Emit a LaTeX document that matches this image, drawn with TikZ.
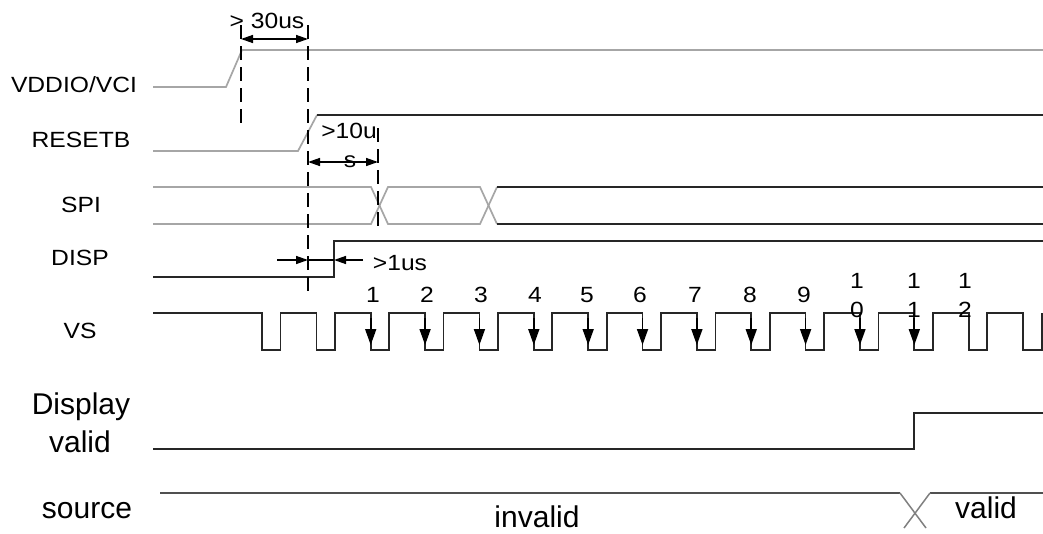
\documentclass[tikz,border=0pt]{standalone}
\usepackage{fontspec}
\setmainfont{Liberation Sans}
\newfontfamily\labfont[FakeStretch=1.12]{Liberation Sans}
\usetikzlibrary{arrows.meta}
\definecolor{sgray}{HTML}{A6A6A6}
\definecolor{sdark}{HTML}{262626}
\definecolor{srcc}{HTML}{505050}
\definecolor{xg}{HTML}{808080}
\begin{document}
\begin{tikzpicture}[x=1pt,y=-1pt,
  wgray/.style={draw=sgray,line width=1.7pt},
  wdark/.style={draw=sdark,line width=1.7pt,line join=miter},
  dashln/.style={draw=black,line width=1.3pt,dash pattern=on 14pt off 7pt},
  dimarr/.style={draw=black,line width=1.4pt,{Triangle[length=12pt,width=8pt]}-{Triangle[length=12pt,width=8pt]}},
  onearr/.style={draw=black,line width=1.4pt,-{Triangle[length=12pt,width=8pt]}},
  vsarr/.style={draw=black,line width=1.7pt,-{Triangle[length=16pt,width=11pt]}},
  lab/.style={font=\labfont\fontsize{22}{25}\selectfont,inner sep=0pt,anchor=base},
  big/.style={font=\fontsize{30}{35}\selectfont,inner sep=0pt,anchor=base}]
\useasboundingbox (0,0) rectangle (1043,533);
\clip (0,0) rectangle (1043,533);
\fill[white] (0,0) rectangle (1043,533);

% signal names
\node[lab] (tvdd) at (74,92) {VDDIO/VCI};
\node[lab] (trst) at (81,147) {RESETB};
\node[lab] (tspi) at (81,212) {SPI};
\node[lab] (tdisp) at (80,265) {DISP};
\node[lab] (tvs) at (80,338) {VS};
\node[big] (tdv1) at (81,414) {Display};
\node[big] (tdv2) at (80,452) {valid};
\node[big] (tsrc) at (87,518) {source};

% VDDIO/VCI
\draw[wgray] (153,87) -- (226,87) -- (242,50) -- (1043,50);
% RESETB
\draw[wgray] (153,151) -- (298,151) -- (317,115);
\draw[wdark] (317,115) -- (1043,115);
% SPI
\draw[wgray] (153,187) -- (371,187) -- (388,224) -- (480,224) -- (497,187);
\draw[wgray] (153,224) -- (371,224) -- (388,187) -- (480,187) -- (497,224);
\draw[wdark] (497,187) -- (1043,187);
\draw[wdark] (497,224) -- (1043,224);
% DISP
\draw[wdark] (153,277) -- (334,277) -- (334,241) -- (1043,241);
% VS
\draw[wdark] (153,313) foreach \k in {0,...,13} { -- ({262+54.36*\k},313) -- ++(0,37) -- ++(18.5,0) -- ++(0,-37) } -- (1023,313) -- (1023,350) -- (1042,350) -- (1042,313);
\foreach \k in {2,...,12} { \draw[vsarr] ({262+54.36*\k},318) -- ({262+54.36*\k},345); }
% Display valid
\draw[wdark] (153,449) -- (914,449) -- (914,413) -- (1043,413);
% source
\draw[draw=srcc,line width=1.7pt] (160,493) -- (900,493);
\draw[draw=srcc,line width=1.7pt] (930,493) -- (1043,493);
\draw[draw=xg,line width=1.5pt] (900,493) -- (926,528);
\draw[draw=xg,line width=1.5pt] (930,493) -- (904,528);
\node[big] (tinv) at (537,527) {invalid};
\node[big] (tval) at (986,518) {valid};

% dashed guides
\coordinate (g1t) at (241,25); \coordinate (g1b) at (241,127);
\coordinate (g2t) at (308,25); \coordinate (g2b) at (308,298);
\coordinate (g3t) at (378,128); \coordinate (g3b) at (378,232);
\draw[dashln] (g1t) -- (g1b);
\draw[dashln] (g2t) -- (g2b);
\draw[dashln] (g3t) -- (g3b);

% timing dimensions
\coordinate (a1) at (241,39); \coordinate (a2) at (308,39);
\draw[dimarr] (a1) -- (a2);
\node[lab] (t30) at (267,28) {> 30us};
\coordinate (b1) at (308,162); \coordinate (b2) at (378,162);
\draw[dimarr] (b1) -- (b2);
\node[lab] (t10) at (349,138) {>10u};
\node[lab] (ts) at (350,167) {s};
\coordinate (c0) at (277,260); \coordinate (c1) at (308,260);
\coordinate (c2) at (334,260); \coordinate (c3) at (363,260);
\draw[draw=black,line width=1.4pt] (c1) -- (c2);
\draw[onearr] (c0) -- (c1);
\draw[onearr] (c3) -- (c2);
\node[lab] (t1us) at (400,270) {>1us};

% frame numbers
\node[lab] (n1) at (373,302) {1};
\node[lab] (n2) at (427,302) {2};
\node[lab] (n3) at (481,302) {3};
\node[lab] (n4) at (535,302) {4};
\node[lab] (n5) at (587,302) {5};
\node[lab] (n6) at (640,302) {6};
\node[lab] (n7) at (695,302) {7};
\node[lab] (n8) at (750,302) {8};
\node[lab] (n9) at (804,302) {9};
\node[lab] (n10a) at (857,288) {1};
\node[lab] (n10b) at (857,317) {0};
\node[lab] (n11a) at (914,288) {1};
\node[lab] (n11b) at (914,317) {1};
\node[lab] (n12a) at (965,288) {1};
\node[lab] (n12b) at (965,317) {2};
\end{tikzpicture}
\end{document}
